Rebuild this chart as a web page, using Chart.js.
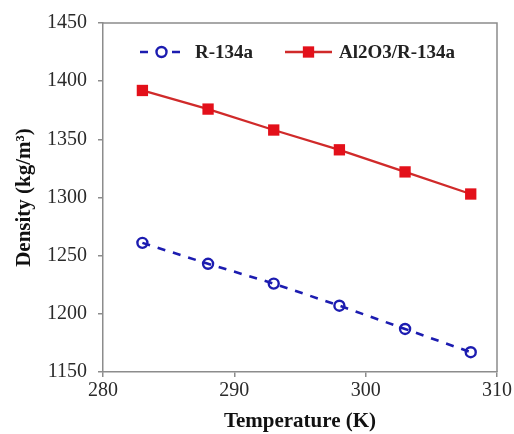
<!DOCTYPE html>
<html>
<head>
<meta charset="utf-8">
<script src="https://cdn.jsdelivr.net/npm/chart.js@4.4.1/dist/chart.umd.min.js"></script>
<style>
  html, body { margin: 0; padding: 0; background: #fff; }
  #wrap { width: 514px; height: 434px; position: relative; }
</style>
</head>
<body>
<div id="wrap"><canvas id="c" width="514" height="434"></canvas></div>
<script>
// temperatures (K) and densities (kg/m3)
const temps = [283, 288, 293, 298, 303, 308];
const r134a = [1261, 1243, 1226, 1207, 1187, 1167];
const al2o3R134a = [1392, 1376, 1358, 1341, 1322, 1303];
const xTicks = [280, 290, 300, 310];
const yTicks = [1150, 1200, 1250, 1300, 1350, 1400, 1450];

const SERIF = "'Liberation Serif', 'Times New Roman', serif";
const BLUE = "#1c1cb0", RED = "#e3101a", RED_LINE = "#d02a2a", AXIS = "#8c8c8c";

const pts = (ys) => temps.map((t, i) => ({ x: t, y: ys[i] }));

// frame round the plot + in-plot legend (line sample with marker)
const framePlugin = {
  id: "frame",
  afterDraw(chart) {
    const { ctx, chartArea: a } = chart;
    ctx.save();
    ctx.strokeStyle = AXIS; ctx.lineWidth = 1.5;
    ctx.beginPath();
    ctx.moveTo(a.left, a.top); ctx.lineTo(a.right, a.top); ctx.lineTo(a.right, a.bottom);
    ctx.stroke();

    const y = a.top + 29;
    const items = [
      { ds: chart.data.datasets[0], x0: a.left + 37, x1: a.left + 80, tx: a.left + 92 },
      { ds: chart.data.datasets[1], x0: a.left + 182, x1: a.left + 229, tx: a.left + 236 },
    ];
    ctx.font = "bold 19px " + SERIF;
    ctx.textBaseline = "middle";
    items.forEach((it) => {
      const ds = it.ds, cx = (it.x0 + it.x1) / 2;
      ctx.strokeStyle = ds.borderColor; ctx.lineWidth = ds.borderWidth;
      ctx.setLineDash(ds.borderDash || []);
      ctx.beginPath(); ctx.moveTo(it.x0, y); ctx.lineTo(it.x1, y); ctx.stroke();
      ctx.setLineDash([]);
      ctx.fillStyle = ds.pointBackgroundColor; ctx.strokeStyle = ds.pointBorderColor;
      ctx.lineWidth = ds.pointBorderWidth;
      ctx.beginPath();
      if (ds.pointStyle === "circle") {
        ctx.arc(cx, y, ds.pointRadius, 0, Math.PI * 2);
        ctx.fillStyle = "#fff"; ctx.fill(); ctx.stroke();
      } else {
        const s = Math.SQRT1_2 * ds.pointRadius;
        ctx.rect(cx - s, y - s, 2 * s, 2 * s);
        ctx.fill();
      }
      ctx.fillStyle = "#222";
      ctx.fillText(ds.label, it.tx, y + 1);
    });
    ctx.restore();
  },
};

new Chart(document.getElementById("c"), {
  type: "line",
  data: {
    datasets: [
      { label: "R-134a", data: pts(r134a), borderColor: BLUE, borderWidth: 2.6, borderDash: [8, 8],
        pointStyle: "circle", pointRadius: 5, pointBorderWidth: 2.4, pointBorderColor: BLUE,
        pointBackgroundColor: "rgba(255,255,255,0)", tension: 0 },
      { label: "Al2O3/R-134a", data: pts(al2o3R134a), borderColor: RED_LINE, borderWidth: 2.3,
        pointStyle: "rect", pointRadius: 8, pointBorderWidth: 0, pointBorderColor: RED,
        pointBackgroundColor: RED, tension: 0 },
    ],
  },
  options: {
    responsive: false, animation: false, devicePixelRatio: 1,
    layout: { padding: { left: 0, right: 16, top: 17, bottom: 0 } },
    plugins: { legend: { display: false }, tooltip: { enabled: false } },
    scales: {
      x: {
        type: "linear", min: 280, max: 310,
        afterBuildTicks: (s) => { s.ticks = xTicks.map((v) => ({ value: v })); },
        afterFit: (s) => { s.height = 62; },
        grid: { drawOnChartArea: false, drawTicks: true, tickLength: 5, color: AXIS, lineWidth: 1.5 },
        border: { color: AXIS, width: 1.5 },
        ticks: { color: "#2a2a2a", padding: 2, font: { family: SERIF, size: 20 }, callback: (v) => String(v) },
        title: { display: true, text: "Temperature (K)", color: "#111", padding: { top: 4, bottom: 0 },
          font: { family: SERIF, size: 21, weight: "bold" } },
      },
      y: {
        min: 1150, max: 1450,
        afterBuildTicks: (s) => { s.ticks = yTicks.map((v) => ({ value: v })); },
        afterFit: (s) => { s.width = 103; },
        grid: { drawOnChartArea: false, drawTicks: true, tickLength: 5, color: AXIS, lineWidth: 1.5 },
        border: { color: AXIS, width: 1.5 },
        ticks: { color: "#2a2a2a", padding: 11, font: { family: SERIF, size: 20 }, callback: (v) => String(v) },
        title: { display: true, text: "Density (kg/m³)", color: "#111", padding: { top: 12, bottom: 0 },
          font: { family: SERIF, size: 21, weight: "bold" } },
      },
    },
  },
  plugins: [framePlugin],
});
</script>
</body>
</html>
